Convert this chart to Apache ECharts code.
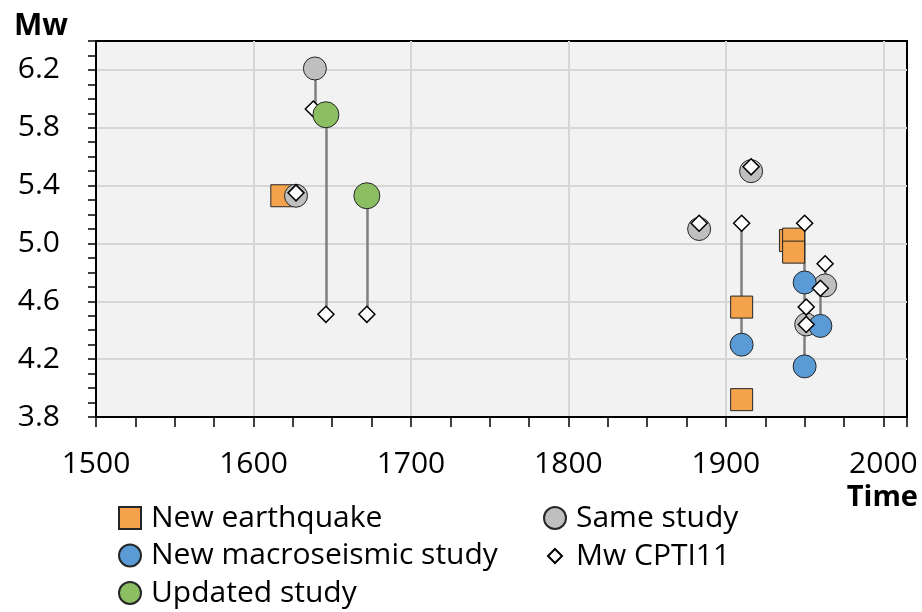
<!DOCTYPE html>
<html>
<head>
<meta charset="utf-8">
<title>Mw vs Time</title>
<script src="https://cdn.jsdelivr.net/npm/echarts@6/dist/echarts.min.js"></script>
<style>
  html, body { margin: 0; padding: 0; background: #fff; }
  #main { width: 922px; height: 612px; }
</style>
</head>
<body>
<div id="main"></div>
<script>
// values
var newEqYear = [1618, 1910, 1910, 1941, 1943, 1943];
var newEqMw = [5.33, 4.56, 3.92, 5.02, 5.03, 4.94];

var sameYear = [1639, 1627, 1883, 1916, 1951, 1963];
var sameMw = [6.21, 5.33, 5.10, 5.50, 4.44, 4.71];

var macroYear = [1910, 1950, 1950, 1960];
var macroMw = [4.30, 4.73, 4.15, 4.43];

var updatedYear = [1646, 1672];
var updatedMw = [5.89, 5.33];

var cptiYear = [1638, 1627, 1646, 1672, 1883, 1916, 1910, 1950, 1951, 1951, 1960, 1963];
var cptiMw = [5.93, 5.35, 4.51, 4.51, 5.14, 5.53, 5.14, 5.14, 4.56, 4.44, 4.69, 4.86];

// vertical connectors: year, Mw top, Mw bottom
var linkYear = [1639, 1646, 1672, 1910, 1950, 1960, 1963];
var linkTop = [6.21, 5.89, 5.33, 5.14, 5.14, 4.69, 4.86];
var linkBottom = [5.93, 4.51, 4.51, 4.30, 4.15, 4.43, 4.71];

var xTickLabels = [1500, 1600, 1700, 1800, 1900, 2000];
var yTickLabels = [3.8, 4.2, 4.6, 5.0, 5.4, 5.8, 6.2];

function pairs(xs, ys) {
  return xs.map(function (x, i) { return [x, ys[i]]; });
}

var font = 'Open Sans';
var border = { borderColor: '#262626', borderWidth: 1 };
var legendText = { fontFamily: font, fontSize: 30, lineHeight: 30, color: '#000', padding: [0, 0, 0, 5] };

var chart = echarts.init(document.getElementById('main'));
chart.setOption({
  animation: false,
  grid: {
    left: 96, right: 15, top: 41, height: 376,
    show: true,
    backgroundColor: '#f2f2f2',
    borderColor: '#000',
    borderWidth: 2
  },
  xAxis: {
    type: 'value',
    min: 1500, max: 2015, interval: 25,
    name: 'Time',
    nameLocation: 'end',
    nameGap: 11,
    nameTextStyle: {
      fontFamily: font, fontSize: 29, fontWeight: 'bold', color: '#000',
      align: 'right', verticalAlign: 'top', padding: [66, 0, 0, 0]
    },
    axisLine: { lineStyle: { color: '#000', width: 2 } },
    axisTick: { length: 10, lineStyle: { color: '#000', width: 1.5 } },
    axisLabel: {
      margin: 32,
      fontFamily: font, fontSize: 30, color: '#000',
      formatter: function (v) {
        return xTickLabels.indexOf(Math.round(v)) >= 0 ? String(Math.round(v)) : '';
      }
    },
    splitLine: {
      show: true,
      lineStyle: { color: ['#d6d6d6', 'rgba(0,0,0,0)', 'rgba(0,0,0,0)', 'rgba(0,0,0,0)'], width: 2 }
    }
  },
  yAxis: {
    type: 'value',
    min: 3.8, max: 6.4, interval: 0.1,
    name: 'Mw',
    nameLocation: 'end',
    nameGap: 0,
    nameTextStyle: {
      fontFamily: font, fontSize: 30, fontWeight: 'bold', color: '#000',
      align: 'right', padding: [0, 28, 0, 0]
    },
    axisLine: { show: true, lineStyle: { color: '#000', width: 2 } },
    axisTick: { show: true, length: 8, lineStyle: { color: '#000', width: 1.5 } },
    axisLabel: {
      margin: 36,
      fontFamily: font, fontSize: 30, color: '#000',
      formatter: function (v) {
        var r = Math.round(v * 10) / 10;
        return yTickLabels.indexOf(r) >= 0 ? r.toFixed(1) : '';
      }
    },
    splitLine: {
      show: true,
      lineStyle: { color: ['#d6d6d6', 'rgba(0,0,0,0)', 'rgba(0,0,0,0)', 'rgba(0,0,0,0)'], width: 2 }
    }
  },
  legend: [
    {
      left: 118, top: 503, orient: 'vertical', padding: 0,
      itemWidth: 22, itemHeight: 22, itemGap: 7.5,
      textStyle: legendText,
      data: ['New earthquake', 'New macroseismic study', 'Updated study']
    },
    {
      left: 543, top: 503, padding: 0,
      itemWidth: 22, itemHeight: 22,
      textStyle: legendText,
      data: ['Same study']
    },
    {
      left: 547, top: 541, padding: 0,
      itemWidth: 14, itemHeight: 14,
      textStyle: Object.assign({}, legendText, { padding: [0, 0, 0, 9] }),
      data: ['Mw CPTI11']
    }
  ],
  series: [
    {
      type: 'lines',
      coordinateSystem: 'cartesian2d',
      silent: true,
      lineStyle: { color: '#7f7f7f', width: 2.5, opacity: 1 },
      data: linkYear.map(function (x, i) {
        return { coords: [[x, linkTop[i]], [x, linkBottom[i]]] };
      })
    },
    {
      name: 'New earthquake', type: 'scatter',
      symbol: 'rect', symbolSize: 22,
      itemStyle: Object.assign({ color: '#f4a24b', opacity: 1 }, border),
      data: pairs(newEqYear, newEqMw)
    },
    {
      name: 'Same study', type: 'scatter',
      symbol: 'circle', symbolSize: 23,
      itemStyle: Object.assign({ color: '#bfbfbf', opacity: 1 }, border),
      data: pairs(sameYear, sameMw)
    },
    {
      name: 'New macroseismic study', type: 'scatter',
      symbol: 'circle', symbolSize: 23,
      itemStyle: Object.assign({ color: '#5b9bd5', opacity: 1 }, border),
      data: pairs(macroYear, macroMw)
    },
    {
      name: 'Mw CPTI11', type: 'scatter',
      symbol: 'diamond', symbolSize: 16,
      itemStyle: { color: '#fff', borderColor: '#000', borderWidth: 1.5, opacity: 1 },
      data: pairs(cptiYear, cptiMw)
    },
    {
      name: 'Updated study', type: 'scatter',
      symbol: 'circle', symbolSize: 26,
      itemStyle: Object.assign({ color: '#8cbf62', opacity: 1 }, border),
      data: pairs(updatedYear, updatedMw)
    }
  ]
});
</script>
</body>
</html>
